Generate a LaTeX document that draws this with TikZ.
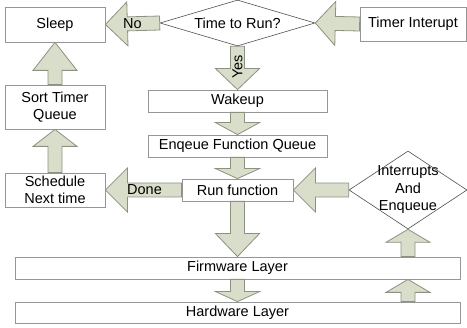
\documentclass[tikz,border=0pt]{standalone}
\usepackage{fontspec}
\setmainfont{Liberation Sans}
\usetikzlibrary{calc,shapes.geometric}
\definecolor{fatfill}{RGB}{216,222,202}
\definecolor{fatline}{RGB}{140,146,128}
\definecolor{boxline}{RGB}{150,150,150}
\definecolor{diamline}{RGB}{80,80,80}

\begin{document}
\begin{tikzpicture}[x=1pt,y=-1pt,
  box/.style={draw=boxline,line width=0.8pt,fill=white,inner sep=0pt,align=center,
    font=\fontsize{14.5}{17.5}\selectfont},
  decision/.style={diamond,draw=diamline,line width=0.6pt,inner sep=0pt,align=center,
    font=\fontsize{14.5}{17.5}\selectfont},
  lbl/.style={inner sep=0pt,font=\fontsize{14.5}{17.5}\selectfont},
  % block arrow, #1 = head length
  fat/.style={fill=fatfill,draw=fatline,line width=0.8pt,line join=miter,
    to path={let \p1=(\tikztostart), \p2=(\tikztotarget),
      \n1={atan2(\y2-\y1,\x2-\x1)}, \n2={veclen(\x2-\x1,\y2-\y1)-#1} in
      ($(\p1)+(\n1+90:7pt)$) -- ++(\n1:\n2) -- ++(\n1+90:15pt) -- (\p2)
      -- ($(\p1)+(\n1:\n2)+(\n1-90:22pt)$) -- ++(\n1+90:15pt)
      -- ($(\p1)+(\n1-90:7pt)$) -- cycle}},
  fat/.default=21
]
  \useasboundingbox (0,0) rectangle (467,328);
  % Boxes
  \node[box,minimum width=100,minimum height=35] (sleep) at (55,24.5) {Sleep};
  \node[box,minimum width=106,minimum height=34] (timer) at (413,24) {Timer Interupt};
  \node[decision,aspect=3.37,minimum width=155,minimum height=46] (ttr) at (237.5,23) {Time to Run?};
  \node[box,minimum width=100,minimum height=44] (sort) at (55,107) {Sort Timer\\Queue};
  \node[box,minimum width=179,minimum height=22] (wake) at (237.5,101) {Wakeup};
  \node[box,minimum width=179,minimum height=22] (enq) at (237.5,146) {Enqeue Function Queue};
  \node[box,minimum width=111,minimum height=22] (run) at (237.5,190) {Run function};
  \node[box,minimum width=100,minimum height=34] (sched) at (55,190) {Schedule\\Next time};
  \node[decision,aspect=1.51,minimum width=118,minimum height=78] (intr) at (408,190) {};
  \node[box,minimum width=445,minimum height=22] (fw) at (237.5,268) {Firmware Layer};
  \node[box,minimum width=445,minimum height=21] (hw) at (237.5,312.5) {Hardware Layer};
  % Arrows
  \draw[fat=20] (timer.west) to (ttr.east);
  \draw[fat=22] (ttr.west) to (sleep.east);
  \draw[fat] (ttr.south) to (wake.north);
  \draw[fat=12] (wake.south) to (enq.north);
  \draw[fat=10] (enq.south) to (run.north);
  \draw[fat=22] (run.west) to (sched.east);
  \draw[fat=17] (sched.north) to (sort.south);
  \draw[fat=28] (sort.north) to (sleep.south);
  \draw[fat=22] (intr.west) to (run.east);
  \draw[fat=23] (run.south) to (run.south |- fw.north);
  \draw[fat=10] (fw.south) to (hw.north);
  \draw[fat=13] (hw.north -| intr.south) to (fw.south -| intr.south);
  \draw[fat=13] (fw.north -| intr.south) to (intr.south);
  % Labels
  \node[lbl] (no) at (132.5,24) {No};
  \node[lbl] (done) at (144.5,190) {Done};
  \node[lbl,rotate=90] (yes) at (237.5,67) {Yes};
  \node[lbl,align=center] (intrtext) at (intr) {Interrupts\\And\\Enqueue};
\end{tikzpicture}
\end{document}
